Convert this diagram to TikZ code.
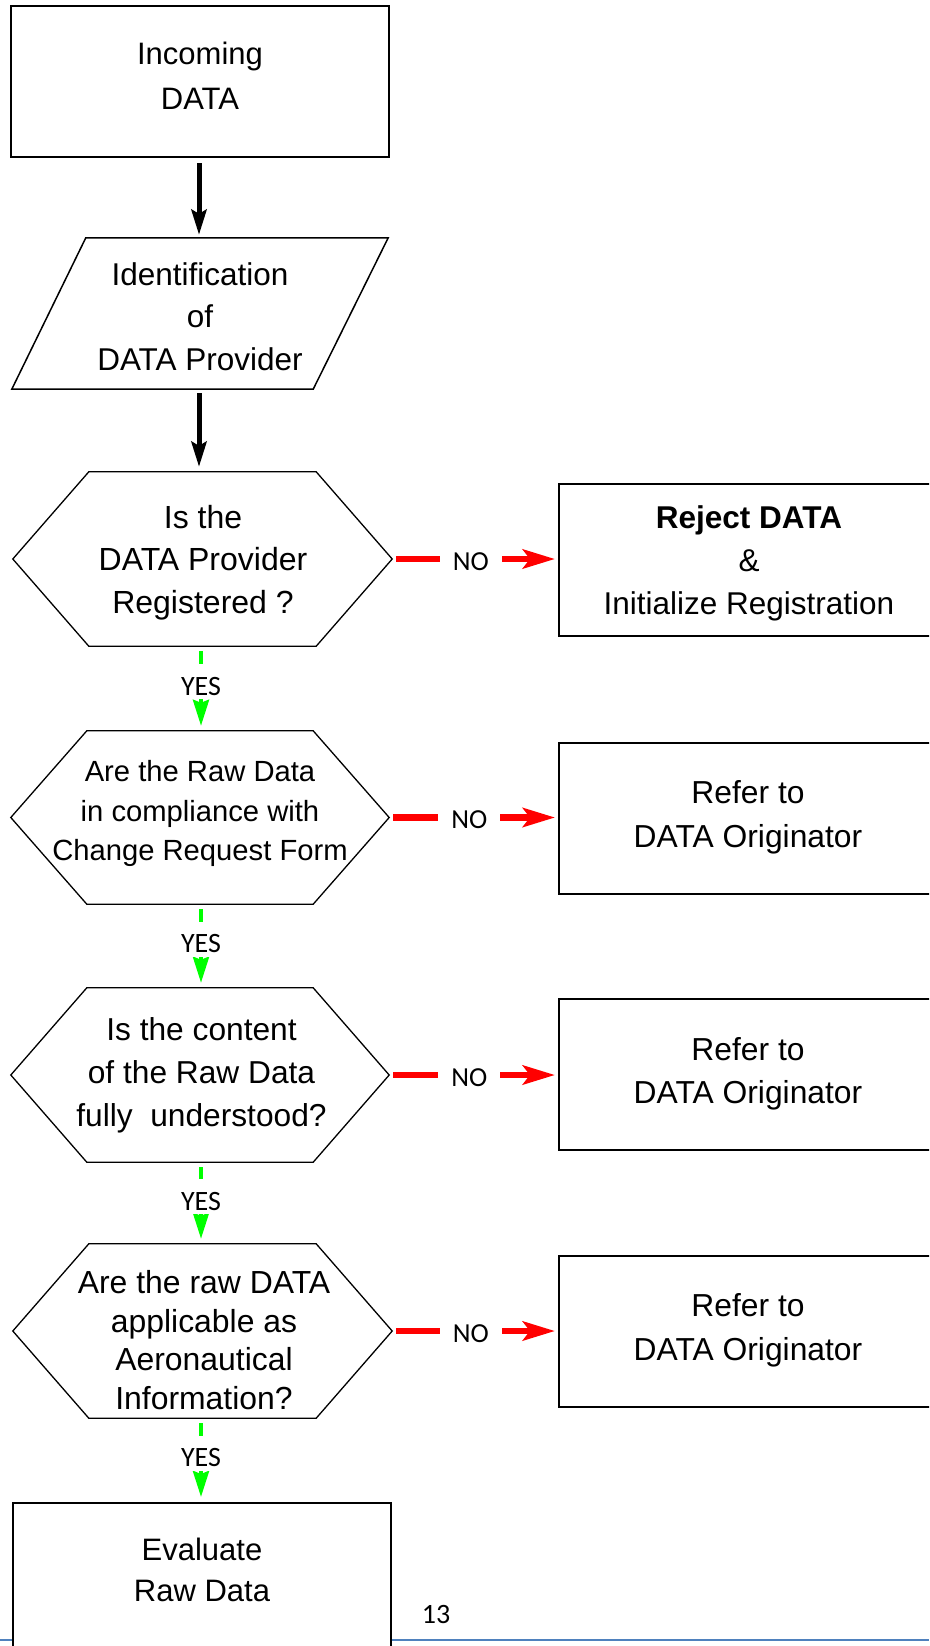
\documentclass[tikz,border=0pt]{standalone}
\usepackage{fontspec}
\setmainfont{Liberation Sans}
\newfontfamily\calfont{Carlito}
\usetikzlibrary{arrows.meta,calc}
\definecolor{flowred}{RGB}{255,0,0}
\definecolor{flowgreen}{RGB}{0,255,0}
\definecolor{pageblue}{RGB}{79,129,189}
\newcommand\drawhex[1]{%
  \draw[hexline] (#1.west) -- ($(#1.north west)+(76,0)$) -- ($(#1.north east)+(-76,0)$)
    -- (#1.east) -- ($(#1.south east)+(-76,0)$) -- ($(#1.south west)+(76,0)$) -- cycle;}
\begin{document}
\begin{tikzpicture}[x=1pt,y=-1pt,
  frame/.style={draw=black, line width=2pt, fill=white, minimum width=378pt,
    minimum height=151pt, inner sep=0pt},
  ghost/.style={draw=none, inner sep=0pt, minimum width=#1},
  hexline/.style={draw=black, line width=1.3pt, line join=miter},
  parline/.style={draw=black, line width=1.5pt, line join=miter},
  txt/.style={align=center, inner sep=0pt},
  blackarrow/.style={line width=5pt, -{Stealth[length=25pt,width=15pt,inset=4pt]}},
  greenarrow/.style={draw=flowgreen, line width=4pt, -{Stealth[length=26pt,width=16pt,inset=3pt]}},
  redarrow/.style={draw=flowred, line width=6.5pt, -{Stealth[length=32pt,width=19pt,inset=7pt]}},
  yeslabel/.style={fill=white, inner xsep=2pt, inner ysep=0pt, text height=31pt,
    text depth=4pt, pos=0.41, font={\calfont\fontsize{28pt}{30pt}\selectfont}},
  nolabel/.style={fill=white, inner xsep=13pt, inner ysep=0pt, text height=22.6pt,
    text depth=0pt, pos=0.47, font={\calfont\fontsize{27.5pt}{30pt}\selectfont}}
]
\useasboundingbox (0,0) rectangle (929,1646);
\clip (0,0) rectangle (929,1646);

% page footer line
\draw[pageblue, line width=2.5pt] (0,1640) -- (929,1640);

% shapes
\node[frame] (inc) at (200,81.5) {};
\node[ghost=376pt, minimum height=151pt] (par) at (200,313.5) {};
\draw[parline] (par.south west) -- ($(par.north west)+(74,0)$) -- (par.north east)
  -- ($(par.south east)+(-75,0)$) -- cycle;

\node[ghost=379pt, minimum height=174pt] (h1) at (202.5,559) {};
\node[ghost=378pt, minimum height=173pt] (h2) at (200,817.5) {};
\node[ghost=378pt, minimum height=174pt] (h3) at (200,1075) {};
\node[ghost=379pt, minimum height=174pt] (h4) at (202.5,1331) {};
\drawhex{h1}
\drawhex{h2}
\drawhex{h3}
\drawhex{h4}

\node[frame, minimum height=152pt] (rej) at (748,560) {};
\node[frame] (ref1) at (748,818) {};
\node[frame] (ref2) at (748,1074.5) {};
\node[frame] (ref3) at (748,1331) {};
\node[frame] (eva) at (202,1578.5) {};

% texts
\node[txt, font={\fontsize{31pt}{44.5pt}\selectfont}] (incT) at (200,76) {Incoming\\DATA};
\node[txt, font={\fontsize{31.5pt}{42.5pt}\selectfont}] (parT) at (200,316.5) {Identification\\of\\DATA Provider};
\node[txt, font={\fontsize{32pt}{42.8pt}\selectfont}] (h1T) at (203,562.7) {Is the\\DATA Provider\\Registered ?};
\node[txt, font={\fontsize{29.2pt}{39.5pt}\selectfont}] (h2T) at (200,813.5) {Are the Raw Data\\in compliance with\\Change Request Form};
\node[txt, font={\fontsize{31.7pt}{43pt}\selectfont}] (h3T) at (201.5,1074.8) {Is the content\\of the Raw Data\\fully~ understood?};
\node[txt, font={\fontsize{31.9pt}{38.8pt}\selectfont}] (h4T) at (204,1340) {Are the raw DATA\\applicable as\\Aeronautical\\Information?};
\node[txt, font={\fontsize{31.5pt}{43pt}\selectfont}] (rejT) at (749,563.8) {\textbf{Reject DATA}\\\&\\Initialize Registration};
\node[txt, font={\fontsize{31.8pt}{43.5pt}\selectfont}] (ref1T) at (748,817.5) {Refer to\\DATA Originator};
\node[txt, font={\fontsize{31.8pt}{43.5pt}\selectfont}] (ref2T) at (748,1073.8) {Refer to\\DATA Originator};
\node[txt, font={\fontsize{31.8pt}{43.5pt}\selectfont}] (ref3T) at (748,1330.3) {Refer to\\DATA Originator};
\node[txt, font={\fontsize{31pt}{41pt}\selectfont}] (evaT) at (202,1570) {Evaluate\\Raw Data};

\node[inner sep=0pt, anchor=base, font={\calfont\fontsize{28pt}{30pt}\selectfont}] (pgnum) at (436,1623) {13};

% black arrows
\coordinate (a1s) at ($(inc.south)+(-1,5)$);
\coordinate (a1e) at ($(par.north)+(0,-3)$);
\draw[blackarrow] (a1s) -- (a1s |- a1e);
\coordinate (a2s) at ($(par.south)+(-1,4)$);
\coordinate (a2e) at ($(h1.north)+(0,-5)$);
\draw[blackarrow] (a2s) -- (a2s |- a2e);

% YES connectors
\coordinate (g1s) at ($(h1.south)+(-1.5,5)$);
\coordinate (g1e) at ($(h2.north)+(0,-5)$);
\draw[greenarrow] (g1s) -- (g1s |- g1e) node[yeslabel] (y1) {YES};
\coordinate (g2s) at ($(h2.south)+(1,5)$);
\coordinate (g2e) at ($(h3.north)+(0,-5)$);
\draw[greenarrow] (g2s) -- (g2s |- g2e) node[yeslabel] (y2) {YES};
\coordinate (g3s) at ($(h3.south)+(1,5)$);
\coordinate (g3e) at ($(h4.north)+(0,-5)$);
\draw[greenarrow] (g3s) -- (g3s |- g3e) node[yeslabel] (y3) {YES};
\coordinate (g4s) at ($(h4.south)+(-1.5,5)$);
\coordinate (g4e) at ($(eva.north)+(0,-5)$);
\draw[greenarrow] (g4s) -- (g4s |- g4e) node[yeslabel] (y4) {YES};

% NO connectors
\coordinate (r1s) at ($(h1.east)+(4,0)$);
\draw[redarrow] (r1s) -- ($(r1s -| rej.west)+(-3,0)$) node[nolabel] (n1) {NO};
\coordinate (r2s) at ($(h2.east)+(4,0)$);
\draw[redarrow] (r2s) -- ($(r2s -| ref1.west)+(-3,0)$) node[nolabel] (n2) {NO};
\coordinate (r3s) at ($(h3.east)+(4,0)$);
\draw[redarrow] (r3s) -- ($(r3s -| ref2.west)+(-3,0)$) node[nolabel] (n3) {NO};
\coordinate (r4s) at ($(h4.east)+(4,0)$);
\draw[redarrow] (r4s) -- ($(r4s -| ref3.west)+(-3,0)$) node[nolabel] (n4) {NO};
\end{tikzpicture}
\end{document}
